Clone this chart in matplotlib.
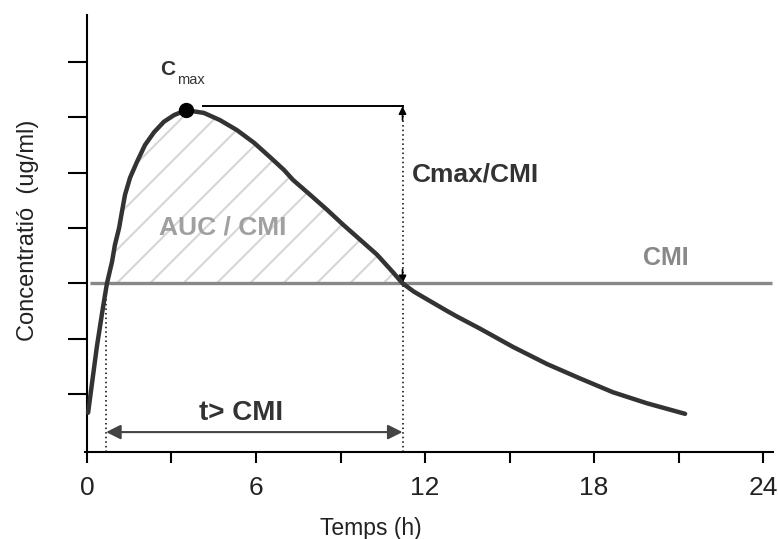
import matplotlib
matplotlib.use("Agg")
import matplotlib.pyplot as plt
import numpy as np

plt.rcParams['font.family'] = ['Liberation Sans', 'DejaVu Sans']
plt.rcParams['hatch.linewidth'] = 1.5

# concentration curve (time in h, conc in ug/ml units)
t_hours = [0.04, 0.35, 0.57, 0.71, 0.89, 0.99, 1.14, 1.24, 1.35, 1.53, 1.77,
           2.06, 2.38, 2.73, 3.09, 3.51, 4.15, 4.72, 5.32, 5.93, 6.50, 6.99,
           7.31, 7.92, 8.52, 9.09, 9.69, 10.29, 10.86, 11.2, 11.6, 12.07,
           12.78, 13.13, 13.95, 15.12, 16.33, 17.5, 18.67, 19.88, 21.23]
conc = [0.66, 1.85, 2.57, 3.0, 3.39, 3.69, 4.0, 4.29, 4.6, 4.91, 5.19,
        5.5, 5.73, 5.92, 6.04, 6.13, 6.08, 5.95, 5.77, 5.54, 5.28, 5.05,
        4.87, 4.6, 4.33, 4.06, 3.79, 3.52, 3.2, 3.0, 2.85, 2.71,
        2.5, 2.4, 2.18, 1.85, 1.54, 1.28, 1.03, 0.83, 0.64]

cmi = 3.0
t_first = 0.68      # curve rises above CMI
t_last = 11.2       # curve falls below CMI
cmax_line = 6.2
x_major = [0, 6, 12, 18, 24]
x_minor = [3, 9, 15, 21]
y_ticks = [1, 2, 3, 4, 5, 6, 7]

t = np.array(t_hours)
c = np.array(conc)
i_max = int(np.argmax(c))

fig = plt.figure(figsize=(7.78, 5.39), dpi=100)
ax = fig.add_axes([85/778, (539-452)/539, (773-85)/778, (452-15)/539])
ax.set_xlim(-0.07, 24.35)
ax.set_ylim(-0.05, 7.85)

for s in ['top', 'right']:
    ax.spines[s].set_visible(False)
ax.spines['left'].set_position(('data', 0))
ax.spines['left'].set_linewidth(1.5)
ax.spines['bottom'].set_linewidth(1.5)

ax.set_xticks(x_major)
ax.set_xticks(x_minor, minor=True)
ax.set_xticklabels([str(v) for v in x_major],
                   family=['Liberation Sans Narrow', 'Liberation Sans'],
                   fontsize=19, color='#222222')
ax.tick_params(axis='x', which='both', direction='out', length=8, width=1.5, pad=9)
ax.set_yticks(y_ticks)
ax.set_yticklabels([])
ax.tick_params(axis='y', direction='out', length=14, width=1.5, pad=2)

# hatched area above CMI
ax.fill_between(t, c, cmi, where=c >= cmi, interpolate=True, facecolor='none',
                edgecolor='#d6d6d6', hatch='/', linewidth=0, zorder=1)

# CMI line
ax.plot([0.1, 24.3], [cmi, cmi], color='#888888', lw=2.4, zorder=2,
        solid_capstyle='butt')

# dotted guides
ax.vlines(t_first, -0.05, cmi, colors='black', linestyles=(0, (1, 2)), lw=1.1, zorder=2)
ax.vlines(t_last, -0.05, cmax_line, colors='black', linestyles=(0, (1, 2)), lw=1.1, zorder=2)

# Cmax horizontal line and arrow heads
ax.plot([t[i_max] + 0.6, t_last], [cmax_line, cmax_line], color='black', lw=1.4, zorder=3)
ax.annotate('', xy=(t_last, cmax_line), xytext=(t_last, cmax_line - 0.25),
            arrowprops=dict(arrowstyle='-|>', color='black', lw=1.2,
                            mutation_scale=11, shrinkA=0, shrinkB=0))
ax.annotate('', xy=(t_last, cmi), xytext=(t_last, cmi + 0.25),
            arrowprops=dict(arrowstyle='-|>', color='black', lw=1.2,
                            mutation_scale=11, shrinkA=0, shrinkB=0))

# concentration curve
ax.plot(t, c, color='#333333', lw=3.2, zorder=4, solid_capstyle='round',
        solid_joinstyle='round')
ax.plot(t[i_max], c[i_max], 'o', color='black', ms=10, zorder=5)

# t > CMI double arrow
ax.annotate('', xy=(t_last, 0.31), xytext=(t_first, 0.31),
            arrowprops=dict(arrowstyle='<|-|>', color='#444444', lw=1.5,
                            mutation_scale=22, shrinkA=0, shrinkB=0))

# labels on the plot
ax.text(2.85, 6.86, 'C', fontsize=15, fontweight='bold', color='#333333',
        ha='center', va='center')
ax.text(3.18, 6.68, 'max', fontsize=10.5, color='#333333', ha='left', va='center')
ax.text(4.83, 4.0, 'AUC / CMI', fontsize=19, fontweight='bold', color='#a0a0a0',
        ha='center', va='center')
ax.text(11.54, 4.96, 'Cmax/CMI', fontsize=19, fontweight='bold', color='#333333',
        ha='left', va='center')
ax.text(20.55, 3.46, 'CMI', fontsize=18, fontweight='bold', color='#888888',
        ha='center', va='center')
ax.text(5.47, 0.66, 't> CMI', fontsize=20, fontweight='bold', color='#333333',
        ha='center', va='center')

# axis titles
fig.text(371/778, 1 - 528/539, 'Temps (h)', fontsize=16.5, color='#222222',
         ha='center', va='center')
fig.text(28/778, 1 - 230/539, 'Concentratió  (ug/ml)', fontsize=17, color='#222222',
         ha='center', va='center', rotation=90)

fig.savefig('out.png', dpi=100)
